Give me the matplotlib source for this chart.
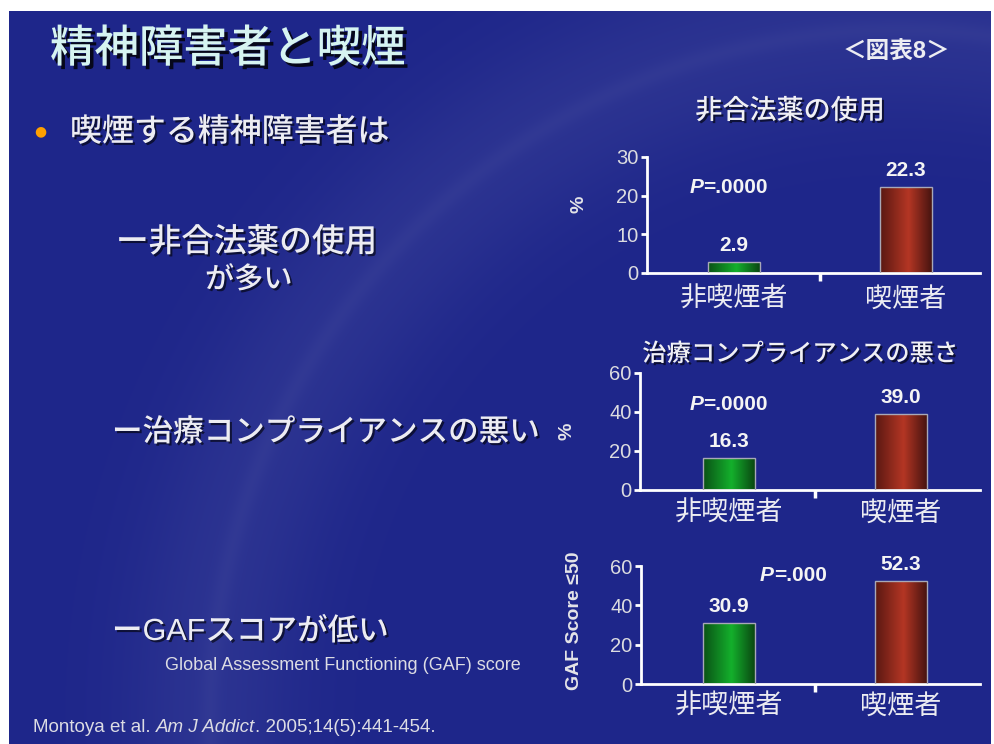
import numpy as np
import matplotlib
matplotlib.use('Agg')
import matplotlib.pyplot as plt
import matplotlib.patheffects as pe
from matplotlib.colors import LinearSegmentedColormap, to_rgb

plt.rcParams['font.family'] = ['Liberation Sans', 'Noto Sans CJK JP', 'DejaVu Sans']

# ---- data ----
groups = ["非喫煙者", "喫煙者"]
illicit_drug_use = [2.9, 22.3]      # %
poor_compliance = [16.3, 39.0]      # %
gaf_le50 = [30.9, 52.3]             # GAF score <= 50
p_values = ["=.0000", "=.0000", "=.000"]
chart_titles = ["非合法薬の使用", "治療コンプライアンスの悪さ", None]
y_labels = ["%", "%", "GAF Score ≤50"]
y_ticks = [[0, 10, 20, 30], [0, 20, 40, 60], [0, 20, 40, 60]]

slide_title = "精神障害者と喫煙"
fig_tag = "＜図表8＞"
bullet_text = "喫煙する精神障害者は"
point_texts = ["ー非合法薬の使用", "ー治療コンプライアンスの悪い", "ーGAFスコアが低い"]
gaf_note = "Global Assessment Functioning (GAF) score"

W, H = 994, 744
BG = '#1e268a'
TXT = '#ececf2'

fig = plt.figure(figsize=(W / 100, H / 100), dpi=100)

# slide background with the light swoosh of the template
yy, xx = np.mgrid[0:H, 0:W] + 0.5
d = np.hypot(xx - 900, yy - 720) - 690
glow = 0.06 * np.exp(-(d / 90) ** 2) + 0.025 * np.exp(-(d / 10) ** 2)
base = np.array(to_rgb(BG))
img = base + glow[..., None] * (1 - base)
img[~((xx >= 9) & (xx <= 991) & (yy >= 11))] = 1.0

bg = fig.add_axes([0, 0, 1, 1])
bg.imshow(img, extent=(0, W, H, 0), aspect='auto', interpolation='bilinear')
bg.set_xlim(0, W)
bg.set_ylim(H, 0)
bg.axis('off')

shadow = [pe.withSimplePatchShadow(offset=(1.5, -1.5), shadow_rgbFace='black', alpha=0.6)]

# ---- left-hand text ----
bg.text(50, 50, slide_title, fontsize=32, color='#d6f4f1', va='center', ha='left', weight='medium',
        path_effects=[pe.withSimplePatchShadow(offset=(2.5, -2.5), shadow_rgbFace='black', alpha=0.8)])
bg.text(896, 52, fig_tag, fontsize=17, weight='bold', color=TXT, va='center', ha='center')

bg.text(40, 131, "●", fontsize=10, color='#ffa000', va='center', ha='center', family='DejaVu Sans')
bg.text(70, 133, bullet_text, fontsize=23, color=TXT, va='center', ha='left', weight='medium',
        path_effects=shadow)

bg.text(116, 243, point_texts[0], fontsize=23.5, color=TXT, va='center', ha='left', weight='medium',
        path_effects=shadow)
bg.text(205, 280, "が多い", fontsize=21, color=TXT, va='center', ha='left', weight='medium',
        path_effects=shadow)
bg.text(112, 433, point_texts[1], fontsize=22, color=TXT, va='center', ha='left', weight='medium',
        path_effects=shadow)
bg.text(112, 632, point_texts[2], fontsize=22, color=TXT, va='center', ha='left', weight='medium',
        path_effects=shadow)

bg.text(165, 666, gaf_note, fontsize=13, color='#dcdce4', va='center', ha='left')

# citation with italic journal name
c1 = bg.text(33, 727, "Montoya et al.", fontsize=13.5, color='#dcdce4', va='center', ha='left')
c2 = bg.annotate("Am J Addict", xy=(1, 0), xycoords=c1, xytext=(3.5, 0), textcoords='offset points',
                 fontsize=13.5, color='#dcdce4', style='italic', va='bottom', ha='left')
bg.annotate(". 2005;14(5):441-454.", xy=(1, 0), xycoords=c2, fontsize=13.5, color='#dcdce4',
            va='bottom', ha='left')

# ---- bar charts ----
green = LinearSegmentedColormap.from_list('g', [(0, '#0a5216'), (0.55, '#14b02c'), (1, '#0a4812')])
red = LinearSegmentedColormap.from_list('r', [(0, '#5a1812'), (0.55, '#b43624'), (1, '#481410')])

rects = [[0.6509, 0.6331, 0.3350, 0.1559],
         [0.6439, 0.3414, 0.3421, 0.1573],
         [0.6449, 0.0806, 0.3410, 0.1586]]
xlims = [(-0.506, 1.43), (-0.517, 1.459), (-0.512, 1.459)]
title_pos = [(0.43, 1.39, 19.5), (0.47, 1.155, 17.5), None]
p_pos = [(-0.26, 22.0), (-0.23, 44.0), (0.18, 55.4)]
ylab_x = [-0.18, -0.19, -0.17]
ylab_y = [0.59, 0.5, 0.54]
label_pad = [10, 8, 7]

series = [illicit_drug_use, poor_compliance, gaf_le50]
x = np.arange(len(groups))

for i, vals in enumerate(series):
    ax = fig.add_axes(rects[i])
    ax.patch.set_alpha(0)
    bars = ax.bar(x, vals, width=0.30, facecolor='none', edgecolor='#a8a8b8', linewidth=1, zorder=3)
    for bar, cmap in zip(bars, [green, red]):
        x0, w, h = bar.get_x(), bar.get_width(), bar.get_height()
        im = ax.imshow(np.linspace(0, 1, 100)[None, :], cmap=cmap, extent=(x0, x0 + w, 0, h),
                       aspect='auto', interpolation='bicubic', zorder=2)
        im.set_clip_path(bar)
    for xi, v in zip(x, vals):
        ax.annotate(f"{v:.1f}", xy=(xi, v), xytext=(0, 5), textcoords='offset points',
                    ha='center', va='bottom', fontsize=15, weight='bold', color='#f4f4f4')

    ax.set_xlim(*xlims[i])
    ax.set_ylim(0, y_ticks[i][-1])
    ax.set_yticks(y_ticks[i])
    ax.set_xticks(x)
    ax.set_xticklabels(groups)
    ax.set_xticks([0.5], minor=True)

    for s in ['top', 'right']:
        ax.spines[s].set_visible(False)
    for s in ['left', 'bottom']:
        ax.spines[s].set_color('white')
        ax.spines[s].set_linewidth(2)

    ax.tick_params(axis='y', length=4, width=2, color='white', pad=2, labelsize=14.5, labelcolor='#dcdce0')
    ax.tick_params(axis='x', which='major', length=0, pad=label_pad[i], labelsize=19.5, labelcolor=TXT)
    ax.tick_params(axis='x', which='minor', length=6, width=2.5, color='white')

    ax.set_ylabel(y_labels[i], fontsize=14, weight='bold', color='#e4e4e8')
    ax.yaxis.set_label_coords(ylab_x[i], ylab_y[i])

    if chart_titles[i]:
        tx, ty, fs = title_pos[i]
        ax.text(tx, ty, chart_titles[i], transform=ax.transAxes, ha='center', va='center',
                fontsize=fs, color='#f0f0f4', weight='medium', path_effects=shadow)

    px, py = p_pos[i]
    tp = ax.text(px, py, "P", fontsize=15, weight='bold', style='italic', color='#f4f4f4', va='center', ha='left')
    ax.annotate(p_values[i], xy=(1, 0.5), xycoords=tp, fontsize=15, weight='bold', color='#f4f4f4',
                va='center', ha='left')

fig.savefig('out.png', dpi=100, facecolor='white')
